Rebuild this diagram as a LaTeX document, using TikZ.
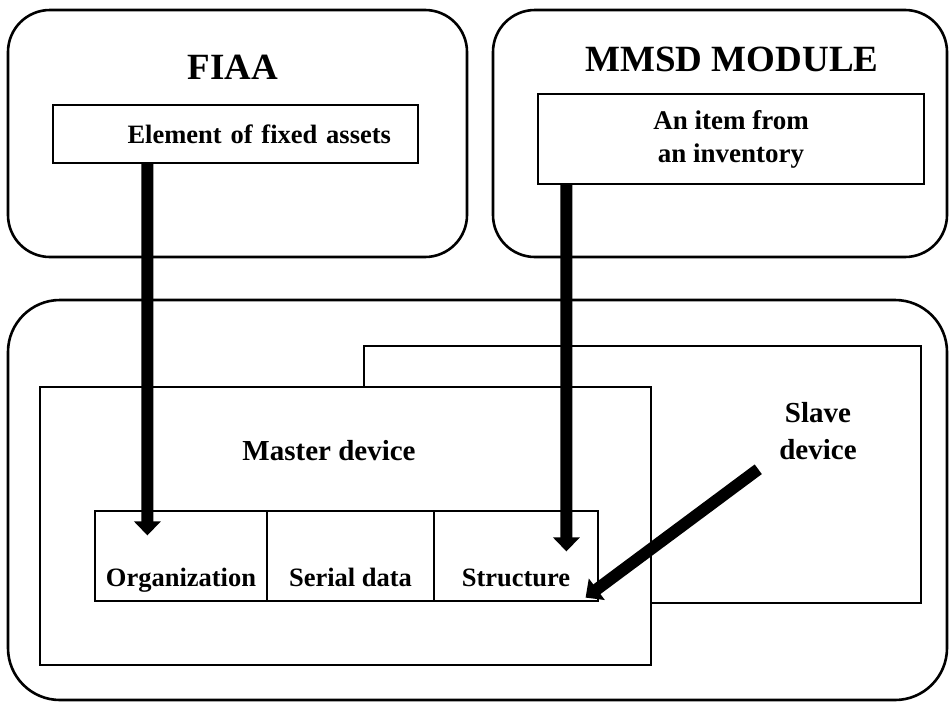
\documentclass[tikz,border=0pt]{standalone}
\usepackage{fontspec}
\setmainfont{Liberation Serif}
\usetikzlibrary{arrows.meta}

\tikzset{
	roundbox/.style={draw,line width=2.6pt,rounded corners=42pt,inner sep=0pt},
	plainbox/.style={draw,line width=1.5pt,inner sep=0pt},
	cellbox/.style={draw,line width=1.2pt,inner sep=0pt,minimum height=90pt,
		text height=66pt,text depth=6pt,font=\bfseries\fontsize{26.5}{30}\selectfont},
	title/.style={font=\bfseries\fontsize{37}{40}\selectfont},
	txt/.style={font=\bfseries\fontsize{27}{33}\selectfont,align=center},
	bigtxt/.style={font=\bfseries\fontsize{29}{37}\selectfont,align=center},
	bigarrow/.style={line width=12pt,-{Triangle[width=26pt,length=14pt]}}
}

\begin{document}
\begin{tikzpicture}[x=1pt,y=-1pt]
	\useasboundingbox (0,0) rectangle (949,707);
	% upper modules
	\node[roundbox,minimum width=459pt,minimum height=247pt] (fiaa) at (237.5,133.5) {};
	\node[title] (fiaatitle) at (233,67) {FIAA};
	\node[plainbox,minimum width=365pt,minimum height=58pt,text width=311pt,inner xsep=27pt,
		align=right,font=\bfseries\fontsize{26.5}{30}\selectfont] (elem) at (235.5,134) {Element of fixed assets};

	\node[roundbox,minimum width=454pt,minimum height=247pt] (mmsd) at (720,133.5) {};
	\node[title] (mmsdtitle) at (732,59) {MMSD MODULE};
	\node[plainbox,minimum width=386pt,minimum height=90pt,txt] (item) at (731,139) {An item from\\an inventory};

	% lower part
	\node[roundbox,rounded corners=52pt,minimum width=939pt,minimum height=400pt] (lower) at (477.5,500) {};
	\node[plainbox,minimum width=557pt,minimum height=257pt] (slave) at (642.5,474.5) {};
	\node[bigtxt] (slavetext) at (818,431) {Slave\\device};
	\node[plainbox,fill=white,minimum width=611pt,minimum height=278pt] (master) at (345.5,526) {};
	\node[bigtxt] (mastertext) at (329,451) {Master device};

	% table of the master device
	\node[cellbox,minimum width=172pt] (org) at (181,556) {Organization};
	\node[cellbox,minimum width=167pt] (serial) at (350.5,556) {Serial data};
	\node[cellbox,minimum width=164pt] (struct) at (516,556) {Structure};

	% links
	\draw[bigarrow] ([xshift=95pt]elem.south west) -- ([shift={(53,25)}]org.north west);
	\draw[bigarrow] ([xshift=29pt]item.south west) -- ([shift={(133,41)}]struct.north west);
	\draw[bigarrow] ([shift={(395,124)}]slave.north west) -- ([shift={(-13,-4)}]struct.south east);
\end{tikzpicture}
\end{document}
